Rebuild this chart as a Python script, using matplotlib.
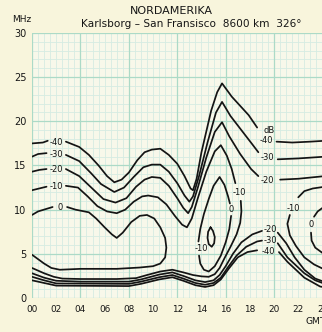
import numpy as np
import matplotlib
matplotlib.use("Agg")
import matplotlib.pyplot as plt

nan = np.nan

# ---------------- data (hour GMT, frequency MHz) ----------------
hours_ticks = [0, 2, 4, 6, 8, 10, 12, 14, 16, 18, 20, 22, 24]
hour_labels = ["00", "02", "04", "06", "08", "10", "12", "14", "16", "18", "20", "22", "24"]
mhz_ticks = [0, 5, 10, 15, 20, 25, 30]

# upper contours (high-frequency edge)
up40_h = [0, 0.9, 1.3, nan, 2.8, 3.9, 4.7, 5.5, 6.2, 6.8, 7.4, 8.0, 8.7, 9.3, 9.9, 10.6, 11.3, 12.0, 12.6, 13.1, 13.3, 13.6, 14.0, 14.8, 15.3, 15.7, 16.5, 17.9, 18.6, nan, 20.2, 21.5, 23.0, 24.2]
up40_m = [17.5, 17.6, 17.8, nan, 17.7, 17.1, 16.2, 15.0, 13.8, 13.1, 13.4, 14.2, 15.6, 16.5, 16.8, 16.9, 16.2, 15.2, 13.8, 12.4, 12.2, 13.5, 16.5, 21.2, 23.3, 24.3, 22.8, 20.7, 19.3, nan, 17.7, 17.6, 17.7, 17.8]

up30_h = [0, 0.5, 1.2, nan, 2.8, 3.9, 4.9, 5.7, 6.8, 7.6, 8.4, 9.2, 9.9, 10.6, 11.3, 12.0, 12.6, 13.0, 13.3, 13.8, 14.5, 15.2, 15.7, 16.4, 17.3, 18.2, 18.7, nan, 20.3, 22.0, 24.2]
up30_m = [16.0, 16.3, 16.4, nan, 16.2, 15.5, 14.1, 12.9, 12.0, 12.5, 13.7, 14.8, 15.1, 15.1, 14.3, 13.0, 11.6, 10.9, 11.5, 13.8, 17.6, 21.0, 22.2, 20.6, 19.0, 17.4, 16.5, nan, 15.7, 15.8, 16.0]

up20_h = [0, 0.6, 1.2, nan, 2.8, 3.9, 4.9, 5.9, 6.9, 7.8, 8.6, 9.3, 9.9, 10.6, 11.3, 12.0, 12.5, 12.9, 13.2, 13.7, 14.4, 15.1, 15.7, 16.3, 17.2, 18.1, 18.7, nan, 20.5, 22.0, 24.2]
up20_m = [14.3, 14.5, 14.6, nan, 14.6, 13.8, 12.5, 11.2, 10.8, 11.3, 12.6, 13.4, 13.7, 13.6, 12.7, 11.3, 10.2, 9.6, 10.3, 12.5, 15.9, 18.8, 19.9, 18.3, 16.3, 14.6, 13.8, nan, 13.4, 13.5, 13.8]

# -10 contour: upper edge, right flank and the low-frequency edge back to the left
m10_h = [0, 0.6, 1.2, nan, 2.8, 3.8, 4.6, 5.4, 6.2, 7.0, 7.7, 8.4, 9.1, 9.6, 10.4, 11.1, 11.8, 12.4, 12.8, 13.2, 13.7, 14.4, 15.1, 15.6, 16.1, 16.5, 16.8, nan,
         17.25, 17.3, 17.2, 16.9, 16.4, 15.9, 15.5, 15.1, 14.6, 14.0, 13.3, 12.5, 11.6, 10.6, 9.5, 8.6, 7.0, 4.0, 2.5, 1.8, 1.0, 0]
m10_m = [12.2, 12.4, 12.6, nan, 12.7, 12.5, 11.5, 10.4, 9.8, 9.6, 10.0, 10.9, 11.5, 11.6, 11.4, 10.6, 9.3, 8.3, 8.0, 9.0, 11.3, 14.3, 16.6, 17.3, 16.1, 14.6, 13.0, nan,
         11.0, 9.8, 8.5, 7.2, 5.8, 4.5, 3.4, 2.7, 2.4, 2.45, 2.6, 2.9, 3.2, 3.0, 2.6, 2.25, 2.15, 2.15, 2.2, 2.4, 2.8, 3.4]

# 0 dB contour, left region
z_left_h = [0, 0.5, 1.7, nan, 2.9, 3.6, 4.7, 5.3, 6.0, 6.6, 7.0, 7.5, 8.2, 8.9, 9.5, 10.1, 10.6, 11.0, 11.1, 11.0, 10.6, 10.0, 8.9, 7.0, 5.6, 4.0, 2.3, 1.6, 1.0, 0.5, 0]
z_left_m = [9.4, 9.8, 10.3, nan, 10.3, 10.0, 9.7, 9.0, 8.0, 7.2, 6.8, 7.4, 8.6, 9.3, 9.4, 9.0, 8.0, 6.8, 5.7, 4.6, 3.9, 3.6, 3.45, 3.3, 3.3, 3.3, 3.2, 3.4, 3.9, 4.4, 4.9]

# 0 dB contour, middle loop
z_mid_h = [13.75, 13.9, 14.2, 14.6, 15.0, 15.5, 15.9, 16.2, 16.35, nan, 16.45, 16.3, 16.0, 15.6, 15.1, 14.6, 14.2, 13.9, 13.8]
z_mid_m = [6.4, 7.8, 9.5, 11.2, 12.7, 13.7, 12.8, 11.5, 10.7, nan, 9.3, 7.8, 6.3, 4.8, 3.6, 3.0, 3.2, 3.9, 4.8]

# small island inside middle loop
isl_h = [14.75, 14.95, 15.1, 15.05, 14.85, 14.6, 14.5, 14.55, 14.75]
isl_m = [8.0, 7.6, 6.9, 6.2, 5.8, 6.1, 6.8, 7.5, 8.0]

# right-hand region
m10r_h = [24.2, 23.2, 22.5, 22.0, nan, 21.3, 21.1, 21.3, 21.8, 22.5, 23.3, 24.2]
m10r_m = [12.6, 12.4, 12.1, 11.4, nan, 9.4, 8.4, 7.1, 5.9, 4.6, 3.8, 3.2]
z_r_h = [24.2, 23.6, 23.3, nan, 23.05, 23.1, 23.4, 24.2]
z_r_m = [10.4, 9.8, 9.2, nan, 7.4, 6.5, 5.7, 4.9]

# lower contours (low-frequency edge)
lo20_h = [0, 1.0, 2.0, 4.0, 8.0, 9.0, 10.5, 11.6, 12.5, 13.5, 14.3, 15.0, 15.5, 16.0, 16.6, 17.3, 18.2, 19.0, nan, 20.3, 21.0, 21.7, 22.5, 23.4, 24.2]
lo20_m = [2.8, 2.3, 1.95, 1.85, 1.85, 2.1, 2.65, 2.9, 2.5, 2.0, 1.8, 2.0, 2.6, 3.6, 5.0, 6.3, 7.2, 7.6, nan, 7.4, 6.2, 4.6, 3.2, 2.2, 1.8]

lo30_h = [0, 1.0, 2.0, 8.0, 9.0, 10.5, 11.6, 12.5, 13.5, 14.3, 15.0, 15.6, 16.2, 16.9, 17.7, 18.6, 19.0, nan, 20.3, 21.1, 22.5, 23.4, 24.2]
lo30_m = [2.4, 2.0, 1.65, 1.6, 1.85, 2.35, 2.6, 2.2, 1.7, 1.5, 1.7, 2.3, 3.5, 4.8, 5.8, 6.4, 6.5, nan, 6.2, 4.6, 2.8, 2.0, 1.6]

lo40_h = [0, 1.0, 2.0, 8.0, 9.0, 10.5, 11.6, 12.5, 13.5, 14.3, 15.0, 15.6, 16.3, 17.0, 17.8, 18.6, nan, 20.4, 21.1, 22.5, 23.8, 24.2]
lo40_m = [2.0, 1.7, 1.4, 1.35, 1.6, 2.1, 2.35, 1.95, 1.45, 1.25, 1.45, 2.1, 3.4, 4.6, 5.2, 5.4, nan, 5.2, 4.1, 2.3, 1.3, 1.2]

# contour labels: text, hour, MHz
lab_text = ["-40", "-30", "-20", "-10", "0", "dB", "-40", "-30", "-20", "-10", "0", "-10", "-10", "0", "-20", "-30", "-40"]
lab_hour = [2.05, 2.0, 2.05, 2.0, 2.3, 19.6, 19.4, 19.45, 19.45, 17.1, 16.45, 13.95, 21.6, 23.1, 19.7, 19.7, 19.5]
lab_mhz = [17.65, 16.3, 14.6, 12.65, 10.25, 19.0, 17.85, 15.9, 13.3, 11.9, 10.0, 5.6, 10.1, 8.3, 7.7, 6.55, 5.3]

# ---------------- figure ----------------
W, H = 322, 332
bg = "#f8f5dc"
tc = "#161616"
fig = plt.figure(figsize=(W / 100, H / 100), dpi=100, facecolor=bg)
ax = fig.add_axes([32 / W, 34 / H, 290.5 / W, 265 / H])
ax.set_facecolor("#f8f8ea")
ax.set_xlim(0, 24)
ax.set_ylim(0, 30)

# grid
for h in np.arange(0, 24.01, 0.5):
    ax.axvline(h, color="#d6ece2", lw=0.6, zorder=0)
for f in range(0, 31):
    ax.axhline(f, color="#d6ece2", lw=0.6, zorder=0)
for h in range(0, 25, 4):
    ax.axvline(h, color="#acdac7", lw=0.9, zorder=0)
for f in range(0, 31, 5):
    ax.axhline(f, color="#acdac7", lw=0.9, zorder=0)

for s in ax.spines.values():
    s.set_visible(False)

lc = "#141414"
lw = 1.25
for xs, ys in [(up40_h, up40_m), (up30_h, up30_m), (up20_h, up20_m), (m10_h, m10_m),
               (z_left_h, z_left_m), (z_mid_h, z_mid_m), (isl_h, isl_m),
               (m10r_h, m10r_m), (z_r_h, z_r_m),
               (lo20_h, lo20_m), (lo30_h, lo30_m), (lo40_h, lo40_m)]:
    ax.plot(xs, ys, color=lc, lw=lw, solid_capstyle="round", solid_joinstyle="round", clip_on=True)

for t, x, y in zip(lab_text, lab_hour, lab_mhz):
    ax.text(x, y, t, fontsize=6.0, color=lc, ha="center", va="center", family="DejaVu Sans")

ax.set_xticks(hours_ticks)
ax.set_xticklabels(hour_labels)
ax.set_yticks(mhz_ticks)
ax.set_yticklabels([str(v) for v in mhz_ticks])
ax.tick_params(axis="x", length=0, pad=5, labelsize=6.4, colors=tc)
ax.tick_params(axis="y", length=0, pad=4, labelsize=7.0, colors=tc)

fig.text(171 / W, 1 - 11 / H, "NORDAMERIKA", ha="center", va="center", fontsize=8.0, color=tc)
fig.text(191 / W, 1 - 24 / H, "Karlsborg \u2013 San Fransisco  8600 km  326\u00b0", ha="center", va="center",
         fontsize=7.6, color=tc)
fig.text(22 / W, 1 - 20 / H, "MHz", ha="center", va="center", fontsize=6.5, color=tc)
fig.text(305 / W, 1 - 322 / H, "GMT", ha="left", va="center", fontsize=6.6, color=tc)

fig.savefig("out.png", dpi=100, facecolor=bg)
